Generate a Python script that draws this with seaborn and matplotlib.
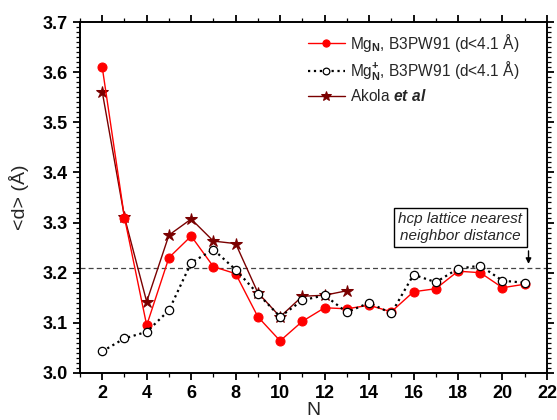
import numpy as np
import pandas as pd
import seaborn as sns
import matplotlib.pyplot as plt
from matplotlib.ticker import MultipleLocator

sns.set_style("ticks")
plt.rcParams.update({
    'font.family': ['Liberation Sans', 'DejaVu Sans'],
    'font.weight': 'bold',
    'mathtext.fontset': 'custom',
    'mathtext.rm': 'Liberation Sans',
    'mathtext.it': 'Liberation Sans:italic',
    'axes.linewidth': 1.4,
    'axes.edgecolor': 'black',
    'xtick.color': 'black', 'ytick.color': 'black',
    'xtick.direction': 'out', 'ytick.direction': 'out',
    'xtick.top': True, 'ytick.right': True,
    'xtick.bottom': True, 'ytick.left': True,
    'xtick.major.size': 5, 'ytick.major.size': 5,
    'xtick.minor.size': 3, 'ytick.minor.size': 3,
    'xtick.major.width': 1.3, 'ytick.major.width': 1.3,
    'xtick.minor.width': 0.9, 'ytick.minor.width': 0.9,
    'xtick.minor.visible': True, 'ytick.minor.visible': True,
    'xtick.labelsize': 13, 'ytick.labelsize': 13,
})

# data
n_neutral = list(range(2, 22))
d_neutral = [3.610, 3.310, 3.095, 3.230, 3.273, 3.212, 3.198, 3.112, 3.064, 3.103,
             3.130, 3.128, 3.135, 3.122, 3.162, 3.168, 3.203, 3.200, 3.170, 3.177]
n_cation = list(range(2, 22))
d_cation = [3.043, 3.069, 3.082, 3.125, 3.220, 3.246, 3.206, 3.158, 3.112, 3.145,
            3.155, 3.121, 3.140, 3.119, 3.196, 3.181, 3.208, 3.214, 3.184, 3.180]
n_akola = list(range(2, 14))
d_akola = [3.561, 3.311, 3.142, 3.275, 3.307, 3.263, 3.258, 3.160, 3.112, 3.153,
           3.155, 3.164]
hcp_d = 3.209

fig, ax = plt.subplots(figsize=(5.57, 4.2), dpi=100)
fig.subplots_adjust(left=0.1436, right=0.982, top=0.9476, bottom=0.112)

ax.axhline(hcp_d, color='#444444', ls='--', lw=0.9, dashes=(4, 2.5), zorder=1)

sns.lineplot(x=n_akola, y=d_akola, ax=ax, color='#7a0000', lw=1.0, marker='*',
             markersize=9, markeredgecolor='#7a0000',
             label=r'Akola $\it{et\ al}$', zorder=3)
sns.lineplot(x=n_neutral, y=d_neutral, ax=ax, color='#ff0000', lw=1.0, marker='o',
             markersize=6.5, markeredgecolor='#ff0000',
             label=r'Mg$_{\rm N}$, B3PW91 (d<4.1 Å)', zorder=4)
sns.lineplot(x=n_cation, y=d_cation, ax=ax, color='black', lw=1.6, ls=':',
             marker='o', markersize=6, markerfacecolor='white',
             markeredgecolor='black', markeredgewidth=0.9,
             label=r'Mg$_{\rm N}^{+}$, B3PW91 (d<4.1 Å)', zorder=5)

handles, labels = ax.get_legend_handles_labels()
order = [1, 2, 0]
ax.legend([handles[i] for i in order], [labels[i] for i in order],
          loc='upper right', bbox_to_anchor=(0.955, 0.99), borderaxespad=0,
          frameon=False, prop={'size': 11.2, 'weight': 'normal'},
          handlelength=2.4, handletextpad=0.35, labelspacing=0.35,
          markerscale=0.8)

ax.text(18.1, 3.29, 'hcp lattice nearest\nneighbor distance', style='italic',
        fontweight='normal', fontsize=11, ha='center', va='center',
        bbox=dict(boxstyle='square,pad=0.3', fc='white', ec='black', lw=1.0))
ax.annotate('', xy=(21.17, 3.212), xytext=(21.17, 3.249),
            arrowprops=dict(arrowstyle='-|>', color='black', lw=1.0,
                            mutation_scale=8))

ax.set_xlim(1, 22)
ax.set_ylim(3.0, 3.7)
ax.xaxis.set_major_locator(MultipleLocator(2))
ax.xaxis.set_minor_locator(MultipleLocator(1))
ax.yaxis.set_major_locator(MultipleLocator(0.1))
ax.yaxis.set_minor_locator(MultipleLocator(0.01))

ax.set_xlabel('N', fontsize=14, labelpad=0)
ax.set_ylabel('<d> (Å)', fontsize=14, labelpad=10)

fig.savefig('out.png', dpi=100)
